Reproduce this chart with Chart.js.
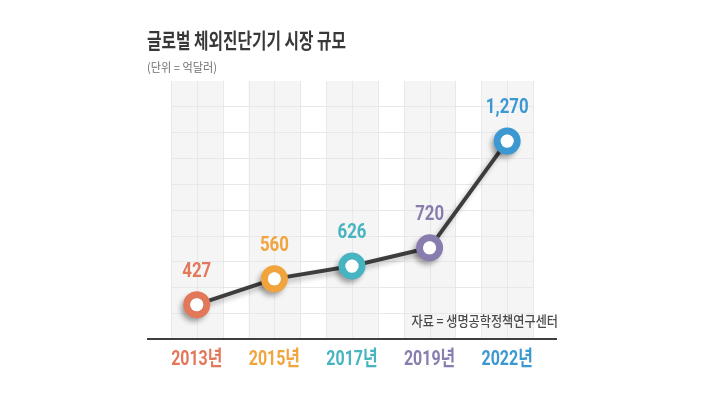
<!DOCTYPE html>
<html>
<head>
<meta charset="utf-8">
<script src="https://cdn.jsdelivr.net/npm/chart.js@4"></script>
<style>
  html, body { margin: 0; padding: 0; background: #fff; }
  #wrap { width: 705px; height: 396px; }
</style>
</head>
<body>
<div id="wrap"><canvas id="marketChart"></canvas></div>
<script>
// data
var years = ['2013년', '2015년', '2017년', '2019년', '2022년'];
var marketSize = [427, 560, 626, 720, 1270];
var pointColors = ['#e2775a', '#f1a33c', '#46b4c1', '#897cae', '#3c98d1'];

var titleText = '글로벌 체외진단기기 시장 규모';
var unitText = '(단위 = 억달러)';
var sourceText = '자료 = 생명공학정책연구센터';

// narrow text helper (the original uses a condensed typeface)
function narrowText(ctx, text, x, y, sx, align) {
	ctx.save();
	ctx.translate(x, y);
	ctx.scale(sx, 1);
	ctx.textAlign = align;
	ctx.textBaseline = 'middle';
	ctx.fillText(text, 0, 0);
	ctx.restore();
}

// grey columns + square grid behind the line
var backdrop = {
	id: 'backdrop',
	beforeDraw: function(chart) {
		var ctx = chart.ctx, a = chart.chartArea, x = chart.scales.x;
		var step = (x.getPixelForValue(1) - x.getPixelForValue(0)) / 3;
		var x0 = x.getPixelForValue(0) - step;
		var x1 = x.getPixelForValue(years.length - 1) + step;
		ctx.save();
		ctx.fillStyle = '#fff';
		ctx.fillRect(0, 0, chart.width, chart.height);
		ctx.fillStyle = '#f5f5f5';
		years.forEach(function(_, i) {
			var c = x.getPixelForValue(i);
			ctx.fillRect(c - step, a.top + 2, 2 * step, a.bottom - a.top - 2);
		});
		ctx.strokeStyle = '#e8e8e8';
		ctx.lineWidth = 1;
		ctx.beginPath();
		for (var px = x0; px <= x1 + 1; px += step) {
			ctx.moveTo(Math.round(px) + 0.5, a.top + 2);
			ctx.lineTo(Math.round(px) + 0.5, a.bottom);
		}
		for (var py = a.bottom - step; py > a.top + 4; py -= step) {
			ctx.moveTo(x0, Math.round(py) + 0.5);
			ctx.lineTo(x1, Math.round(py) + 0.5);
		}
		ctx.stroke();
		// base line
		ctx.strokeStyle = '#3f3f3f';
		ctx.lineWidth = 2;
		ctx.beginPath();
		ctx.moveTo(a.left - 11, a.bottom);
		ctx.lineTo(a.right + 11, a.bottom);
		ctx.stroke();
		ctx.restore();
	},
	// soft drop shadow for the line and rings only
	beforeDatasetDraw: function(chart, args) {
		if (args.index !== 1) return;
		var ctx = chart.ctx;
		ctx.save();
		ctx.shadowColor = 'rgba(0,0,0,0.25)';
		ctx.shadowOffsetX = -3;
		ctx.shadowOffsetY = 4;
		ctx.shadowBlur = 5;
	},
	afterDatasetDraw: function(chart, args) {
		if (args.index !== 1) return;
		chart.ctx.restore();
	}
};

// titles, value labels, year labels, source
var texts = {
	id: 'texts',
	afterDraw: function(chart) {
		var ctx = chart.ctx, a = chart.chartArea, x = chart.scales.x;
		var pts = chart.getDatasetMeta(1).data;
		ctx.save();
		ctx.fillStyle = '#383838';
		ctx.font = 'bold 21px "Noto Sans CJK KR"';
		narrowText(ctx, titleText, a.left - 11, 40, 0.75, 'left');
		ctx.fillStyle = '#707070';
		ctx.font = '12px "Noto Sans CJK KR"';
		narrowText(ctx, unitText, a.left - 11, 67, 0.93, 'left');
		ctx.fillStyle = '#4a4a4a';
		ctx.font = '500 13.5px "Noto Sans CJK KR"';
		narrowText(ctx, sourceText, a.right + 12, 321, 0.9, 'right');

		pts.forEach(function(p, i) {
			ctx.fillStyle = pointColors[i];
			ctx.font = 'bold 21px Roboto';
			narrowText(ctx, marketSize[i].toLocaleString('en-US'), p.x, p.y - 33, 0.8, 'center');
			ctx.font = 'bold 21px Roboto, "Noto Sans CJK KR"';
			narrowText(ctx, years[i], x.getPixelForValue(i), a.bottom + 21, 0.76, 'center');
		});
		ctx.restore();
	}
};

var ctx = document.getElementById('marketChart').getContext('2d');
var myChart = new Chart(ctx, {
	type: 'line',
	data: {
		labels: years,
		datasets: [{
			// white centre on top of each ring, kept free of shadow
			label: 'centre',
			data: marketSize,
			order: 0,
			showLine: false,
			pointRadius: 6.5,
			pointHoverRadius: 6.5,
			pointBorderWidth: 0,
			pointBackgroundColor: '#ffffff'
		}, {
			label: '시장 규모',
			data: marketSize,
			order: 1,
			borderColor: '#3d3d3d',
			borderWidth: 4,
			pointRadius: 10,
			pointHoverRadius: 10,
			pointBorderWidth: 7,
			pointHoverBorderWidth: 7,
			pointBackgroundColor: '#ffffff',
			pointBorderColor: pointColors,
			tension: 0
		}]
	},
	options: {
		responsive: true,
		maintainAspectRatio: false,
		animation: false,
		layout: { padding: { left: 158, right: 159, top: 79, bottom: 57 } },
		plugins: {
			legend: { display: false },
			tooltip: { enabled: false }
		},
		scales: {
			x: { type: 'category', offset: true, display: false },
			y: { min: 250, max: 1590, display: false }
		}
	},
	plugins: [backdrop, texts]
});
</script>
</body>
</html>
